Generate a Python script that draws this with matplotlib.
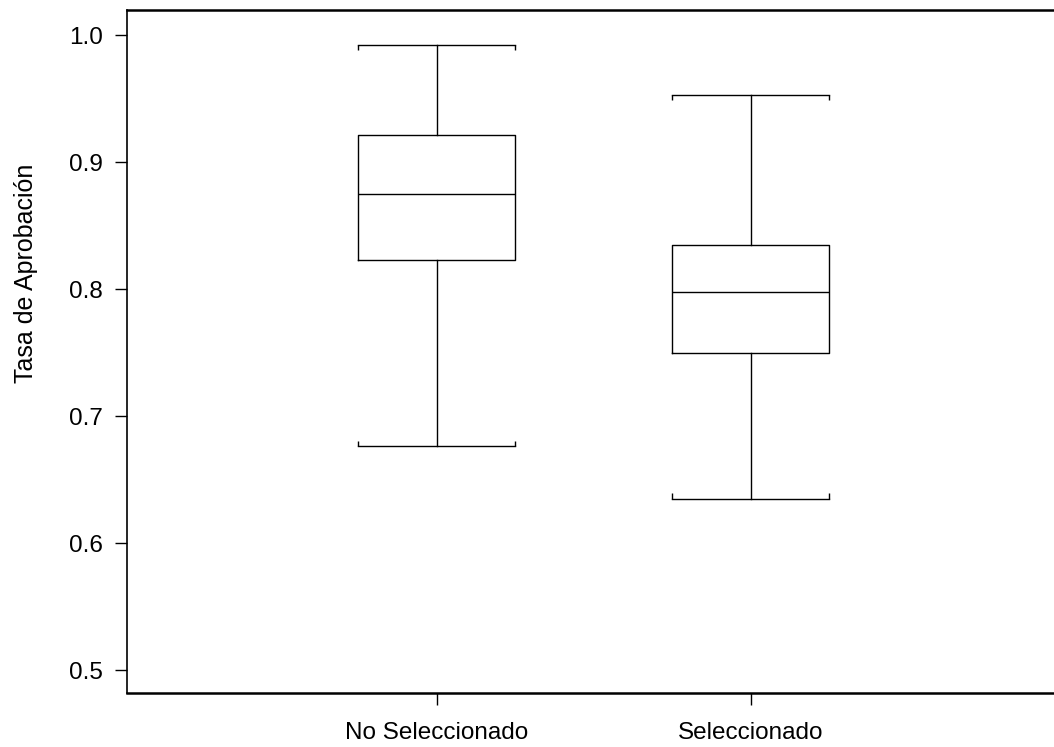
import numpy as np
import matplotlib.pyplot as plt

plt.rcParams['font.family'] = ['Liberation Sans', 'DejaVu Sans']

categories = ['No Seleccionado', 'Seleccionado']
whisker_low = [0.676, 0.635]
q1 = [0.823, 0.750]
median = [0.875, 0.798]
q3 = [0.921, 0.835]
whisker_high = [0.992, 0.953]

stats = []
for i, name in enumerate(categories):
    stats.append(dict(label=name, whislo=whisker_low[i], q1=q1[i], med=median[i],
                      q3=q3[i], whishi=whisker_high[i], fliers=[]))

fig = plt.figure(figsize=(10.54, 7.47), dpi=100)
ax = fig.add_axes([127 / 1054, 54 / 747, 1 - 127 / 1054, 683 / 747])

pos = np.arange(1, len(categories) + 1)
line = dict(color='black', linewidth=1.0)
ax.bxp(stats, positions=pos, widths=0.5, showfliers=False,
       boxprops=line, whiskerprops=line, capprops=line,
       medianprops=line, capwidths=0.5)

# little end ticks on the caps
half = 0.25
for p, lo, hi in zip(pos, whisker_low, whisker_high):
    ax.vlines([p - half, p + half], hi - 0.004, hi, color='black', lw=1.0)
    ax.vlines([p - half, p + half], lo, lo + 0.004, color='black', lw=1.0)

ax.set_xlim(0.013, 2.965)
ax.set_ylim(0.4819, 1.0197)
ax.set_yticks([0.5, 0.6, 0.7, 0.8, 0.9, 1.0])
ax.set_yticklabels(['0.5', '0.6', '0.7', '0.8', '0.9', '1.0'])
ax.set_xticks(pos)
ax.set_xticklabels(categories)
ax.tick_params(axis='both', labelsize=17.5, length=8.6, width=1.0)
ax.tick_params(axis='y', pad=9)
ax.tick_params(axis='x', pad=12.5)
ax.set_ylabel('Tasa de Aprobación', fontsize=18)
ax.yaxis.set_label_coords(-0.096, 0.615)

ax.spines['right'].set_visible(False)
ax.spines['top'].set_linewidth(1.8)
ax.spines['bottom'].set_linewidth(1.8)
ax.spines['left'].set_linewidth(1.2)

fig.savefig('out.png', dpi=100)
